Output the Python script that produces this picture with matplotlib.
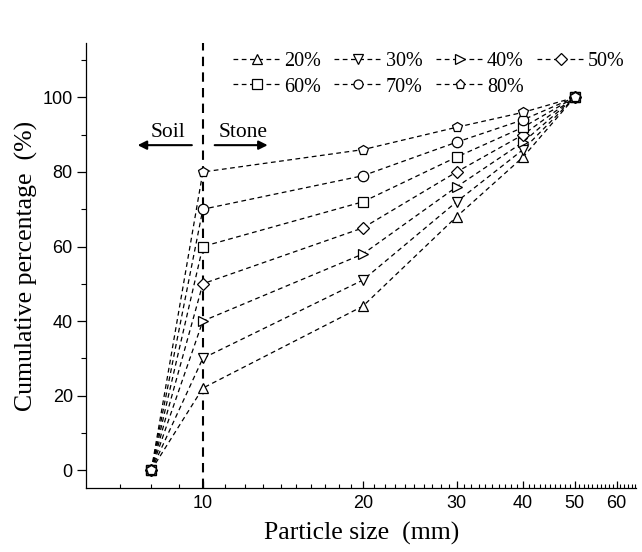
import matplotlib.pyplot as plt
from matplotlib.ticker import FixedLocator, FixedFormatter, NullFormatter

# Particle sizes (mm) and cumulative percentages for each stone content
sizes = [8, 10, 20, 30, 40, 50]
labels = ["20%", "30%", "40%", "50%", "60%", "70%", "80%"]
markers = ["^", "v", ">", "D", "s", "o", "p"]
curves = [
    [0, 22, 44, 68, 84, 100],
    [0, 30, 51, 72, 86, 100],
    [0, 40, 58, 76, 88, 100],
    [0, 50, 65, 80, 90, 100],
    [0, 60, 72, 84, 92, 100],
    [0, 70, 79, 88, 94, 100],
    [0, 80, 86, 92, 96, 100],
]
x_major = [10, 20, 30, 40, 50, 60]
y_major = [0, 20, 40, 60, 80, 100]
y_minor = [10, 30, 50, 70, 90, 110]

serif = "Liberation Serif"
sans = "Liberation Sans"

fig = plt.figure(figsize=(6.42, 5.52), dpi=100)
ax = fig.add_axes([0.134, 0.116, 0.857, 0.806])

handles = []
for lab, mk, yv in zip(labels, markers, curves):
    ms = {"D": 6, "s": 6.5}.get(mk, 7.5)
    h, = ax.plot(sizes, yv, color="black", lw=0.9, ls=(0, (3.8, 2.8)),
                 marker=mk, ms=ms, mfc="white", mec="black", mew=0.9,
                 label=lab)
    handles.append(h)

# Soil / stone boundary
ax.axvline(10, color="black", lw=1.5, ls=(0, (4.5, 3.0)), zorder=1)
ax.annotate("", xy=(7.45, 87.2), xytext=(9.65, 87.2),
            arrowprops=dict(arrowstyle="-|>", color="black", lw=1.5,
                            mutation_scale=13))
ax.annotate("", xy=(13.4, 87.2), xytext=(10.4, 87.2),
            arrowprops=dict(arrowstyle="-|>", color="black", lw=1.5,
                            mutation_scale=13))
ax.text(8.6, 88.0, "Soil", ha="center", va="bottom", fontsize=15.5,
        family=serif)
ax.text(11.9, 88.0, "Stone", ha="center", va="bottom", fontsize=15.5,
        family=serif)

ax.set_xscale("log")
ax.set_xlim(6.03, 65.3)
ax.set_ylim(-4.8, 114.6)

ax.xaxis.set_major_locator(FixedLocator(x_major))
ax.xaxis.set_major_formatter(FixedFormatter([str(v) for v in x_major]))
ax.xaxis.set_minor_locator(FixedLocator([v for v in range(7, 66) if v not in x_major]))
ax.xaxis.set_minor_formatter(NullFormatter())
ax.yaxis.set_major_locator(FixedLocator(y_major))
ax.yaxis.set_minor_locator(FixedLocator(y_minor))

ax.tick_params(axis="x", which="major", direction="in", length=5, width=0.9,
               labelsize=13, pad=5)
ax.tick_params(axis="x", which="minor", direction="in", length=3, width=0.8)
ax.tick_params(axis="y", which="major", direction="out", length=6.5, width=0.9,
               labelsize=13, pad=3)
ax.tick_params(axis="y", which="minor", direction="out", length=3.5, width=0.8)
for t in ax.get_xticklabels() + ax.get_yticklabels():
    t.set_family(sans)

ax.spines["top"].set_visible(False)
ax.spines["right"].set_visible(False)
for s in ("left", "bottom"):
    ax.spines[s].set_linewidth(0.9)

ax.set_xlabel("Particle size  (mm)", fontsize=18.5, family=serif, labelpad=7)
ax.set_ylabel("Cumulative percentage  (%)", fontsize=18.5, family=serif,
              labelpad=3)

# row-major order for a 4-column legend
order = [0, 4, 1, 5, 2, 6, 3]
leg = ax.legend([handles[i] for i in order], [labels[i] for i in order],
                ncol=4, frameon=False, loc="upper left",
                bbox_to_anchor=(0.234, 1.02), handlelength=2.4,
                handletextpad=0.15, columnspacing=0.65, labelspacing=0.3,
                prop={"family": serif, "size": 14.5})
for h in leg.legend_handles:
    h.set_markersize(6.5)

fig.savefig("out.png", dpi=100)
